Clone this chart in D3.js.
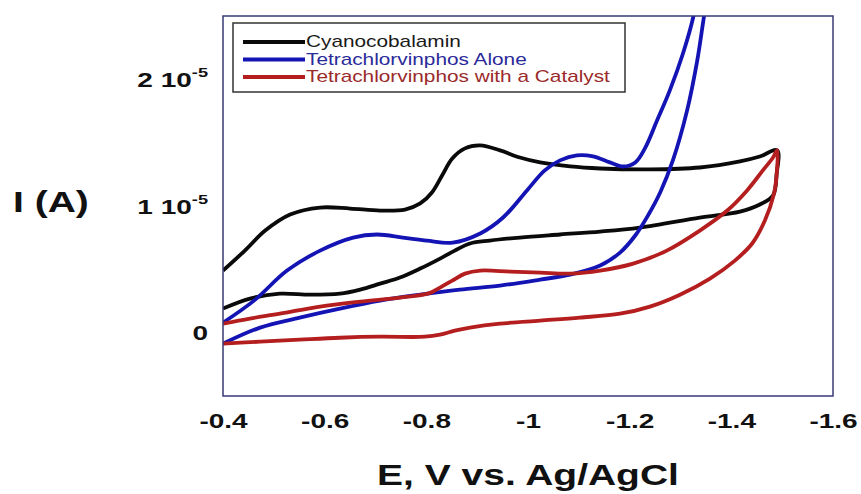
<!DOCTYPE html>
<html>
<head>
<meta charset="utf-8">
<script src="https://cdnjs.cloudflare.com/ajax/libs/d3/7.8.5/d3.min.js"></script>
<style>
  body { margin: 0; background: #fff; }
  svg { display: block; font-family: Arial, "Liberation Sans", sans-serif; }
</style>
</head>
<body>
<div id="chart"></div>
<script>
// potentials in V, currents in units of 1e-5 A
// each series is one loop: forward branch, then return branch
const cyanoE = [-0.40, -0.443, -0.483, -0.532, -0.591, -0.650, -0.709, -0.758, -0.788, -0.811, -0.831, -0.851, -0.876, -0.906, -0.945, -0.984, -1.024, -1.083, -1.142, -1.240, -1.338, -1.417, -1.456, -1.49,
  -1.489, -1.482, -1.456, -1.417, -1.338, -1.220, -1.142, -1.063, -0.984, -0.925, -0.886, -0.856, -0.827, -0.788, -0.748, -0.709, -0.670, -0.630, -0.571, -0.512, -0.453, -0.40];
const cyanoI = [0.49, 0.648, 0.806, 0.933, 0.988, 0.980, 0.964, 0.972, 1.020, 1.107, 1.241, 1.375, 1.455, 1.478, 1.439, 1.383, 1.344, 1.312, 1.296, 1.289, 1.304, 1.352, 1.391, 1.439,
  1.25, 1.083, 1.012, 0.956, 0.909, 0.830, 0.798, 0.775, 0.751, 0.727, 0.704, 0.648, 0.585, 0.506, 0.435, 0.387, 0.340, 0.308, 0.300, 0.308, 0.269, 0.190];

const aloneE = [-0.40, -0.473, -0.551, -0.630, -0.709, -0.788, -0.866, -0.945, -1.024, -1.083, -1.142, -1.181, -1.211, -1.236, -1.260, -1.285, -1.313, -1.333, -1.346, -1.358,
  -1.338, -1.325, -1.305, -1.279, -1.254, -1.230, -1.211, -1.187, -1.161, -1.128, -1.096, -1.063, -1.033, -0.998, -0.951, -0.906, -0.852, -0.801, -0.754, -0.703, -0.656, -0.591, -0.526, -0.461, -0.40];
const aloneI = [-0.087, 0.040, 0.119, 0.190, 0.253, 0.300, 0.340, 0.372, 0.419, 0.458, 0.530, 0.632, 0.767, 0.925, 1.107, 1.360, 1.755, 2.150, 2.490, 2.783,
  2.783, 2.490, 2.206, 1.913, 1.676, 1.455, 1.344, 1.312, 1.344, 1.391, 1.399, 1.360, 1.281, 1.123, 0.909, 0.783, 0.711, 0.727, 0.751, 0.775, 0.751, 0.648, 0.490, 0.253, 0.079];

const catalystE = [-0.40, -0.473, -0.551, -0.630, -0.709, -0.797, -0.827, -0.856, -0.886, -0.945, -1.024, -1.102, -1.181, -1.240, -1.299, -1.358, -1.407, -1.441, -1.466, -1.484, -1.489, -1.49,
  -1.482, -1.462, -1.431, -1.392, -1.338, -1.273, -1.207, -1.142, -1.083, -1.024, -0.965, -0.906, -0.876, -0.851, -0.827, -0.805, -0.748, -0.670, -0.591, -0.512, -0.453, -0.40];
const catalystI = [-0.087, -0.071, -0.055, -0.040, -0.032, -0.032, -0.016, 0.016, 0.040, 0.071, 0.095, 0.119, 0.150, 0.206, 0.300, 0.427, 0.569, 0.704, 0.885, 1.099, 1.241, 1.439,
  1.383, 1.281, 1.123, 0.964, 0.806, 0.648, 0.545, 0.490, 0.466, 0.474, 0.482, 0.490, 0.466, 0.411, 0.356, 0.310, 0.277, 0.245, 0.206, 0.150, 0.111, 0.071];

const seriesNames = [`Cyanocobalamin`, `Tetrachlorvinphos Alone`, `Tetrachlorvinphos with a Catalyst`];
const xTicks = [-0.4, -0.6, -0.8, -1, -1.2, -1.4, -1.6];
const yTicks = [0, 1, 2];
const yExponent = `-5`;

const lineColors = [`#0a0a0a`, `#1414b4`, `#b41e1e`];
const textColors = [`#1a1a1a`, `#2a2a9a`, `#9a2a2a`];

const W = 861, H = 494;
const margin = { top: 16, right: 28, bottom: 98, left: 223 };
const width = W - margin.left - margin.right;
const height = H - margin.top - margin.bottom;

const x = d3.scaleLinear().domain([-0.4, -1.6]).range([0, width]);
const y = d3.scaleLinear().domain([-0.5, 2.5]).range([height, 0]);

const svg = d3.select(`#chart`).append(`svg`)
    .attr(`width`, W)
    .attr(`height`, H);

const g = svg.append(`g`)
    .attr(`transform`, `translate(${margin.left},${margin.top})`);

g.append(`clipPath`).attr(`id`, `plot-clip`)
  .append(`rect`).attr(`width`, width).attr(`height`, height);

const series = [
  { E: cyanoE, I: cyanoI },
  { E: aloneE, I: aloneI },
  { E: catalystE, I: catalystI }
];

const line = d3.line()
    .x(d => x(d[0]))
    .y(d => y(d[1]))
    .curve(d3.curveCatmullRom.alpha(0.5));

const curves = g.append(`g`).attr(`clip-path`, `url(#plot-clip)`);
series.forEach((s, i) => {
  curves.append(`path`)
    .datum(s.E.map((e, k) => [e, s.I[k]]))
    .attr(`fill`, `none`)
    .attr(`stroke`, lineColors[i])
    .attr(`stroke-width`, 3.8)
    .attr(`stroke-linejoin`, `round`)
    .attr(`d`, line);
});

// frame
g.append(`rect`)
  .attr(`width`, width).attr(`height`, height)
  .attr(`fill`, `none`)
  .attr(`stroke`, `#3a3a78`)
  .attr(`stroke-width`, 1.5);

// x axis
const xAxis = g.append(`g`)
  .attr(`transform`, `translate(0,${height})`)
  .call(d3.axisBottom(x).tickValues(xTicks).tickFormat(d => String(d)).tickSize(0).tickPadding(18));
xAxis.select(`.domain`).remove();
xAxis.selectAll(`text`)
  .attr(`font-size`, 20).attr(`font-weight`, `bold`).attr(`fill`, `#111`)
  .attr(`font-family`, `Arial, "Liberation Sans", sans-serif`)
  .attr(`transform`, `scale(1.4,1)`)
  .attr(`x`, 0);

// y axis
const yAxis = g.append(`g`)
  .call(d3.axisLeft(y).tickValues(yTicks).tickSize(0).tickPadding(0));
yAxis.select(`.domain`).remove();
yAxis.selectAll(`text`).each(function(d) {
  const t = d3.select(this)
    .text(null)
    .attr(`x`, 0)
    .attr(`dy`, `0.36em`)
    .attr(`font-size`, 20).attr(`font-weight`, `bold`).attr(`fill`, `#111`)
    .attr(`font-family`, `Arial, "Liberation Sans", sans-serif`)
    .attr(`text-anchor`, `end`)
    .attr(`transform`, `translate(-15,0) scale(1.4,1)`);
  if (d === 0) {
    t.text(`0`);
  } else {
    t.append(`tspan`).text(`${d} 10`);
    t.append(`tspan`).attr(`font-size`, 13).attr(`dy`, `-0.75em`).text(yExponent);
  }
});

// axis titles
svg.append(`text`)
  .attr(`transform`, `translate(528,485) scale(1.3,1)`)
  .attr(`text-anchor`, `middle`)
  .attr(`font-size`, 30).attr(`font-weight`, `bold`).attr(`fill`, `#111`)
  .text(`E, V vs. Ag/AgCl`);

svg.append(`text`)
  .attr(`transform`, `translate(13,212) scale(1.3,1)`)
  .attr(`font-size`, 30).attr(`font-weight`, `bold`).attr(`fill`, `#111`)
  .text(`I (A)`);

// legend
const legend = svg.append(`g`);
legend.append(`rect`)
  .attr(`x`, 233).attr(`y`, 23).attr(`width`, 392).attr(`height`, 69)
  .attr(`fill`, `#fff`).attr(`stroke`, `#333`).attr(`stroke-width`, 1.5);
seriesNames.forEach((name, i) => {
  const by = 47 + i * 17.5;
  legend.append(`line`)
    .attr(`x1`, 243).attr(`x2`, 305)
    .attr(`y1`, by - 5).attr(`y2`, by - 5)
    .attr(`stroke`, lineColors[i]).attr(`stroke-width`, 3.8);
  legend.append(`text`)
    .attr(`transform`, `translate(306,${by}) scale(1.3,1)`)
    .attr(`font-size`, 16).attr(`fill`, textColors[i])
    .text(name);
});
</script>
</body>
</html>
